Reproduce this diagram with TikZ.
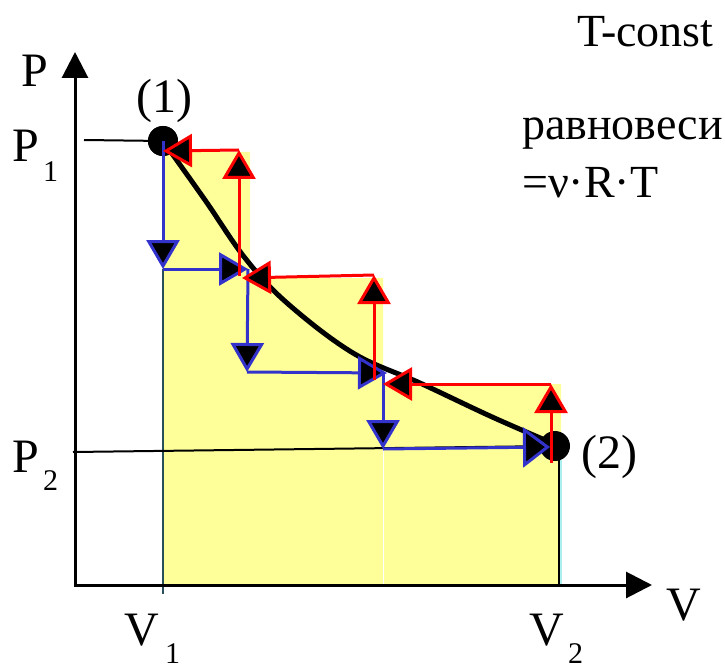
\documentclass[tikz,border=0pt]{standalone}
\usepackage{fontspec}
\setmainfont{Liberation Serif}
\newfontfamily\tnrfont{Liberation Serif}
\usetikzlibrary{arrows.meta}
\definecolor{fillyellow}{RGB}{255,255,153}
\definecolor{stepblue}{RGB}{51,51,204}
\definecolor{darkteal}{RGB}{40,80,90}
\definecolor{lightcyan}{RGB}{170,240,240}
\begin{document}
\begin{tikzpicture}[x=1pt,y=-1pt,
  lbl/.style={inner sep=0pt,anchor=base west,font=\tnrfont\fontsize{48}{50}\selectfont},
  sublbl/.style={inner sep=0pt,anchor=base west,font=\tnrfont\fontsize{30}{32}\selectfont},
  note/.style={inner sep=0pt,anchor=base west,font=\tnrfont\fontsize{46}{50}\selectfont},
  axisline/.style={line width=3pt,-{Triangle[length=26pt,width=26pt]}},
  stepline/.style={line width=3pt,-{Triangle[length=29pt,width=33pt,fill=black]}},
  blueline/.style={stepline,draw=stepblue},
  redline/.style={stepline,draw=red},
  statept/.style={circle,fill=black,inner sep=0pt,minimum size=30pt},
  guide/.style={line width=2pt}]
\useasboundingbox (0,0) rectangle (725,671);

% shaded work area
\fill[fillyellow] (163,152) -- (250,152) -- (250,278) -- (383,278) -- (383,384)
  -- (561,384) -- (561,585) -- (163,585) -- cycle;

% coordinates
\coordinate (O) at (75,585);
\coordinate (Yend) at (75,52);
\coordinate (Xstart) at (74,585);
\coordinate (Xend) at (652,585);
\coordinate (p1s) at (84,140);
\coordinate (p2s) at (73,452);
\coordinate (v1top) at (163,269);
\coordinate (v1tick) at (163,594);
\coordinate (mtop) at (383,450);
\coordinate (mbot) at (383,585);
\coordinate (v2top) at (559,460);
\coordinate (v2bot) at (559,585);
\coordinate (c2top) at (561,460);
\coordinate (c2bot) at (561,585);

% thin vertical lines
\draw[darkteal,line width=1.2pt] (v1top) -- (v1tick);
\draw[white,line width=1pt] (mtop) -- (mbot);
\draw[lightcyan,line width=1.5pt] (c2top) -- (c2bot);
\draw[black,line width=1.5pt] (v2top) -- (v2bot);

% axes
\draw[axisline] (O) -- (Yend);
\draw[axisline] (Xstart) -- (Xend);

% state points
\node[statept] (s1) at (163,141) {};
\node[statept] (s2) at (555,446) {};

% guide lines
\draw[guide] (p1s) -- (s1.center);
\draw[guide] (p2s) -- (s2.center);

% isotherm
\draw[line width=5pt] plot[smooth,tension=0.6] coordinates
  {(s1.center) (205,200) (245,258) (287,303) (353,353) (420,383) (490,416) (545,440)};
\node[statept] at (s1) {};

% blue steps
\coordinate (b1) at (163,269);
\coordinate (b2) at (248,269);
\coordinate (b3) at (247,372);
\coordinate (b4) at (387,373);
\coordinate (b4s) at (383,373);
\coordinate (b5) at (383,449);
\coordinate (b6) at (550,447);
\draw[blueline] (s1.center) -- (b1);
\draw[blueline] (b1) -- (b2);
\draw[blueline] (b2) -- (b3);
\draw[blueline] (b3) -- (b4);
\draw[blueline] (b4s) -- (b5);
\draw[draw=stepblue,line width=3pt,-{Triangle[length=27pt,width=40pt,fill=black]}] (b5) -- (b6);

% red steps
\coordinate (r0) at (551,463);
\coordinate (r1) at (551,384);
\coordinate (r2) at (383,384);
\coordinate (r2s) at (374,380);
\coordinate (r3) at (374,275);
\coordinate (r4) at (242,278);
\coordinate (r4s) at (239,276);
\coordinate (r5) at (239,150);
\coordinate (r6) at (163,151);
\draw[redline] (r0) -- (r1);
\draw[redline] (r1) -- (r2);
\draw[redline] (r2s) -- (r3);
\draw[redline] (r3) -- (r4);
\draw[redline] (r4s) -- (r5);
\draw[redline] (r5) -- (r6);

% labels
\node[lbl] (Plbl) at (21,87) {P};
\node[lbl] (Vlbl) at (666,620) {V};
\node[lbl] (P1lbl) at (12,162) {P};
\node[sublbl] (P1sub) at (43,182) {1};
\node[lbl] (P2lbl) at (12,472) {P};
\node[sublbl] (P2sub) at (43,490) {2};
\node[lbl] (V1lbl) at (124,645) {V};
\node[sublbl] (V1sub) at (165,663) {1};
\node[lbl] (V2lbl) at (529,645) {V};
\node[sublbl] (V2sub) at (568,663) {2};
\node[lbl] (s1lbl) at (136,113) {(1)};
\node[lbl] (s2lbl) at (581,468) {(2)};
\node[note] (tconst) at (577,47) {T-const};
\node[note] (eq1) at (522,140) {равновеси};
\node[note] (eq2) at (522,197) {=ν·R·T};
\end{tikzpicture}
\end{document}
